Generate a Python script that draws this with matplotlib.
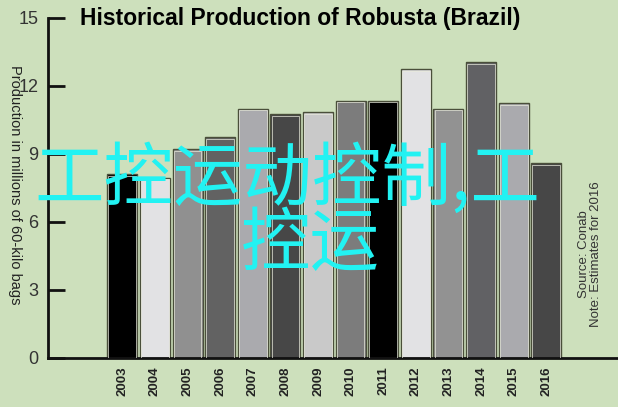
import matplotlib.pyplot as plt
import numpy as np

# Historical Production of Robusta (Brazil)
years = ["2003", "2004", "2005", "2006", "2007", "2008", "2009",
         "2010", "2011", "2012", "2013", "2014", "2015", "2016"]
production = [8.1, 7.95, 9.2, 9.75, 11.0, 10.75, 10.85,
              11.35, 11.35, 12.75, 11.0, 13.05, 11.25, 8.6]
bar_colors = ["#000000", "#e2e2e4", "#909090", "#626262", "#aaaaae", "#474747", "#c9c9c9",
              "#7c7c7c", "#000000", "#e2e2e4", "#929292", "#616164", "#aaaaae", "#474747"]
yticks = [0, 3, 6, 9, 12, 15]

bg = "#cde0bc"

fig = plt.figure(figsize=(6.18, 4.07), dpi=100, facecolor=bg)
ax = fig.add_axes([48 / 618, 49 / 407, 1 - 48 / 618, (358 - 18) / 407])
ax.set_facecolor(bg)

x = np.arange(len(years))
ax.bar(x, production, width=0.92, color=bar_colors, edgecolor="#4a4f3a", linewidth=1.0, zorder=2)
# thin light inner rim
ax.bar(x, np.array(production) - 0.07, width=0.85, color="none", edgecolor="#e8eadc",
       linewidth=0.5, zorder=3)

ax.set_xlim(-2.28, 15.2)
ax.set_ylim(0, 15)
ax.set_yticks(yticks)
ax.set_yticklabels([str(t) for t in yticks], fontsize=13, color="#333333",
                   family="Liberation Sans")
ax.tick_params(axis="y", direction="in", length=12, width=2, color="#111111", pad=7)
ax.set_xticks(x)
ax.set_xticklabels(years, rotation=90, fontsize=9.5, fontweight="bold", color="#222222",
                   family="Liberation Sans")
ax.tick_params(axis="x", length=0, pad=6)

for s in ["top", "right"]:
    ax.spines[s].set_visible(False)
for s in ["left", "bottom"]:
    ax.spines[s].set_linewidth(2)
    ax.spines[s].set_color("#111111")

ax.set_ylabel("Production in millions of 60-kilo bags", rotation=270, fontsize=10.5,
              color="#222222", family="Liberation Sans")
ax.yaxis.set_label_coords(-0.07, 0.51)

fig.text(300 / 618, 1 - 18 / 407, "Historical Production of Robusta (Brazil)",
         ha="center", va="center", fontsize=16.5, fontweight="bold", family="Liberation Sans")

fig.text(590 / 618, 1 - 254 / 407, "Source: Conab\nNote: Estimates for 2016",
         rotation=90, ha="center", va="center", fontsize=9.5, color="#333333",
         family="Liberation Sans", linespacing=1.0)

cjk = ["Noto Sans CJK SC", "DejaVu Sans"]
fig.text(287 / 618, 1 - 180 / 407, "工控运动控制,工", ha="center", va="center",
         fontsize=50, color="#22f2f2", family=cjk, zorder=10)
fig.text(310 / 618, 1 - 245 / 407, "控运", ha="center", va="center",
         fontsize=50, color="#22f2f2", family=cjk, zorder=10)

fig.savefig("out.png", dpi=100, facecolor=bg)
